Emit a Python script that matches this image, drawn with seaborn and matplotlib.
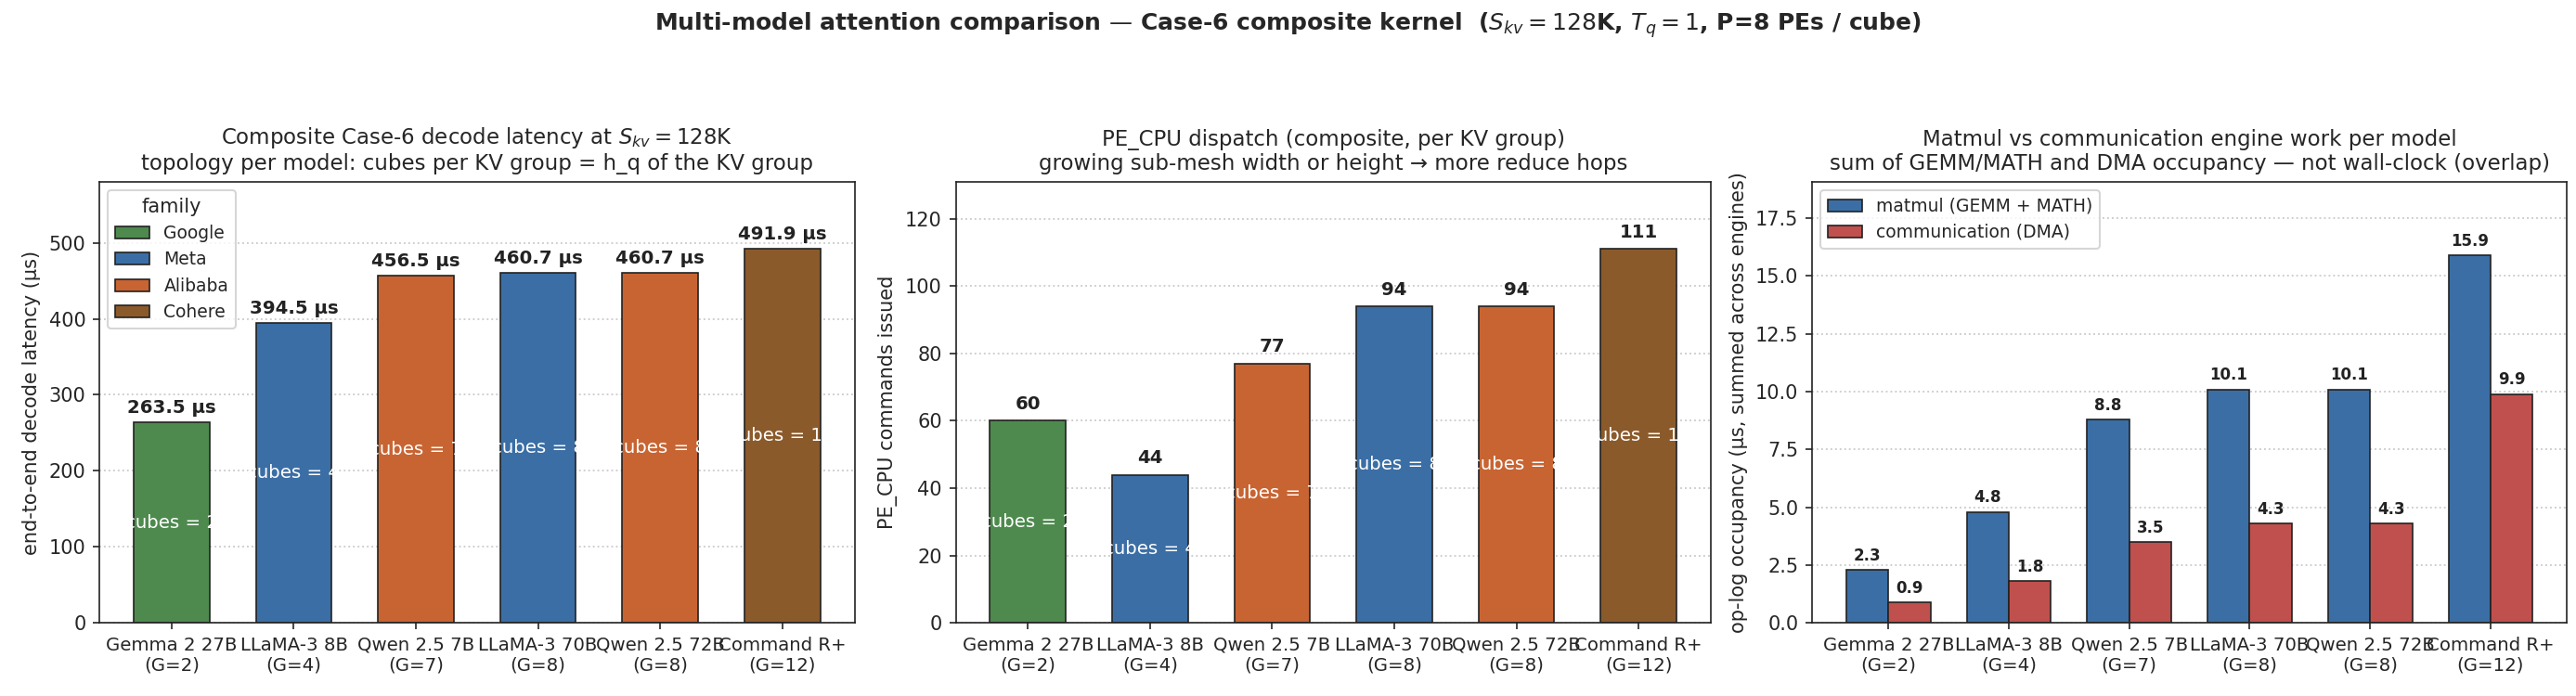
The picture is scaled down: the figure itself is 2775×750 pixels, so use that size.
import numpy as np
import pandas as pd
import matplotlib
matplotlib.use('Agg')
import matplotlib.pyplot as plt
import seaborn as sns

# ── Data ───────────────────────────────────────────────────────────────────────
models   = ["Gemma 2 27B", "LLaMA-3 8B", "Qwen 2.5 7B", "LLaMA-3 70B", "Qwen 2.5 72B", "Command R+"]
groups   = [2, 4, 7, 8, 8, 12]
families = ["Google", "Meta", "Alibaba", "Meta", "Alibaba", "Cohere"]
latency_us   = [263.5, 394.5, 456.5, 460.7, 460.7, 491.9]
pe_cpu_cmds  = [60, 44, 77, 94, 94, 111]
matmul_us    = [2.3, 4.8, 8.8, 10.1, 10.1, 15.9]
comm_us      = [0.9, 1.8, 3.5, 4.3, 4.3, 9.9]

fam_order   = ["Google", "Meta", "Alibaba", "Cohere"]
fam_palette = {"Google": "#4E8A4E", "Meta": "#3B6EA5", "Alibaba": "#C86432", "Cohere": "#8B5A2B"}
eng_palette = {"matmul (GEMM + MATH)": "#3B6EA5", "communication (DMA)": "#C0504D"}

labels = [f"{m}\n(G={g})" for m, g in zip(models, groups)]
df = pd.DataFrame({"label": labels, "family": families, "G": groups,
                   "latency": latency_us, "cmds": pe_cpu_cmds})
eng = pd.DataFrame({"label": labels * 2,
                    "engine": ["matmul (GEMM + MATH)"] * 6 + ["communication (DMA)"] * 6,
                    "us": matmul_us + comm_us})

sns.set_style("ticks")
plt.rcParams['font.family'] = ['DejaVu Sans']

fig, axes = plt.subplots(1, 3, figsize=(18.5, 5), dpi=150)
fig.subplots_adjust(left=0.0386, right=0.9965, bottom=0.105, top=0.739, wspace=0.134)

def style(ax, half_width):
    ax.grid(axis='y', ls=':', color='#cccccc', lw=0.9)
    ax.set_axisbelow(True)
    ax.set_xlabel('')
    # matplotlib-style 5% margins around the bars
    n = len(models)
    span = (n - 1) + 2 * half_width
    ax.set_xlim(-half_width - 0.05 * span, n - 1 + half_width + 0.05 * span)
    ax.tick_params(axis='x', labelsize=9.5)
    ax.tick_params(axis='y', labelsize=10)
    for s in ax.spines.values():
        s.set_color('#222222')

def cube_labels(ax, col):
    for i, row in df.iterrows():
        ax.text(i, row[col] / 2, f"cubes = {row['G']}", ha='center', va='center',
                color='white', fontsize=9.5)

# ── Panel 1: latency ──────────────────────────────────────────────────────────
ax = axes[0]
sns.barplot(data=df, x="label", y="latency", hue="family", hue_order=fam_order,
            palette=fam_palette, dodge=False, width=0.62, edgecolor='#222222',
            linewidth=0.8, saturation=1, ax=ax)
for c in ax.containers:
    ax.bar_label(c, fmt='%.1f µs', padding=3, fontsize=9.5, fontweight='bold', color='#222222')
cube_labels(ax, "latency")
ax.set_ylim(0, max(latency_us) * 1.18)
ax.set_ylabel("end-to-end decode latency (µs)", fontsize=10)
ax.set_title("Composite Case-6 decode latency at $S_{kv} = 128$K\n"
             "topology per model: cubes per KV group = h_q of the KV group", fontsize=11)
ax.legend(title="family", loc='upper left', fontsize=9, title_fontsize=10)
style(ax, 0.31)

# ── Panel 2: PE_CPU dispatch ──────────────────────────────────────────────────
ax = axes[1]
sns.barplot(data=df, x="label", y="cmds", hue="family", hue_order=fam_order,
            palette=fam_palette, dodge=False, width=0.62, edgecolor='#222222',
            linewidth=0.8, saturation=1, legend=False, ax=ax)
for c in ax.containers:
    ax.bar_label(c, fmt='%d', padding=4, fontsize=9.5, fontweight='bold', color='#222222')
cube_labels(ax, "cmds")
ax.set_ylim(0, max(pe_cpu_cmds) * 1.18)
ax.set_ylabel("PE_CPU commands issued", fontsize=10)
ax.set_title("PE_CPU dispatch (composite, per KV group)\n"
             "growing sub-mesh width or height → more reduce hops", fontsize=11)
style(ax, 0.31)

# ── Panel 3: matmul vs communication ─────────────────────────────────────────
ax = axes[2]
sns.barplot(data=eng, x="label", y="us", hue="engine", palette=eng_palette,
            width=0.7, edgecolor='#222222', linewidth=0.8, saturation=1, ax=ax)
for c in ax.containers:
    ax.bar_label(c, fmt='%.1f', padding=3, fontsize=8, fontweight='bold', color='#222222')
ax.set_ylim(0, max(matmul_us) * 1.2)
ax.set_ylabel("op-log occupancy (µs, summed across engines)", fontsize=10)
ax.set_title("Matmul vs communication engine work per model\n"
             "sum of GEMM/MATH and DMA occupancy — not wall-clock (overlap)", fontsize=11)
ax.legend(title=None, loc='upper left', fontsize=9)
style(ax, 0.35)

fig.suptitle("Multi-model attention comparison — Case-6 composite kernel  "
             "($S_{kv} = 128$K, $T_q = 1$, P=8 PEs / cube)",
             fontsize=12, fontweight='bold', y=0.985)

plt.savefig("out.png", dpi=150)
plt.close()
